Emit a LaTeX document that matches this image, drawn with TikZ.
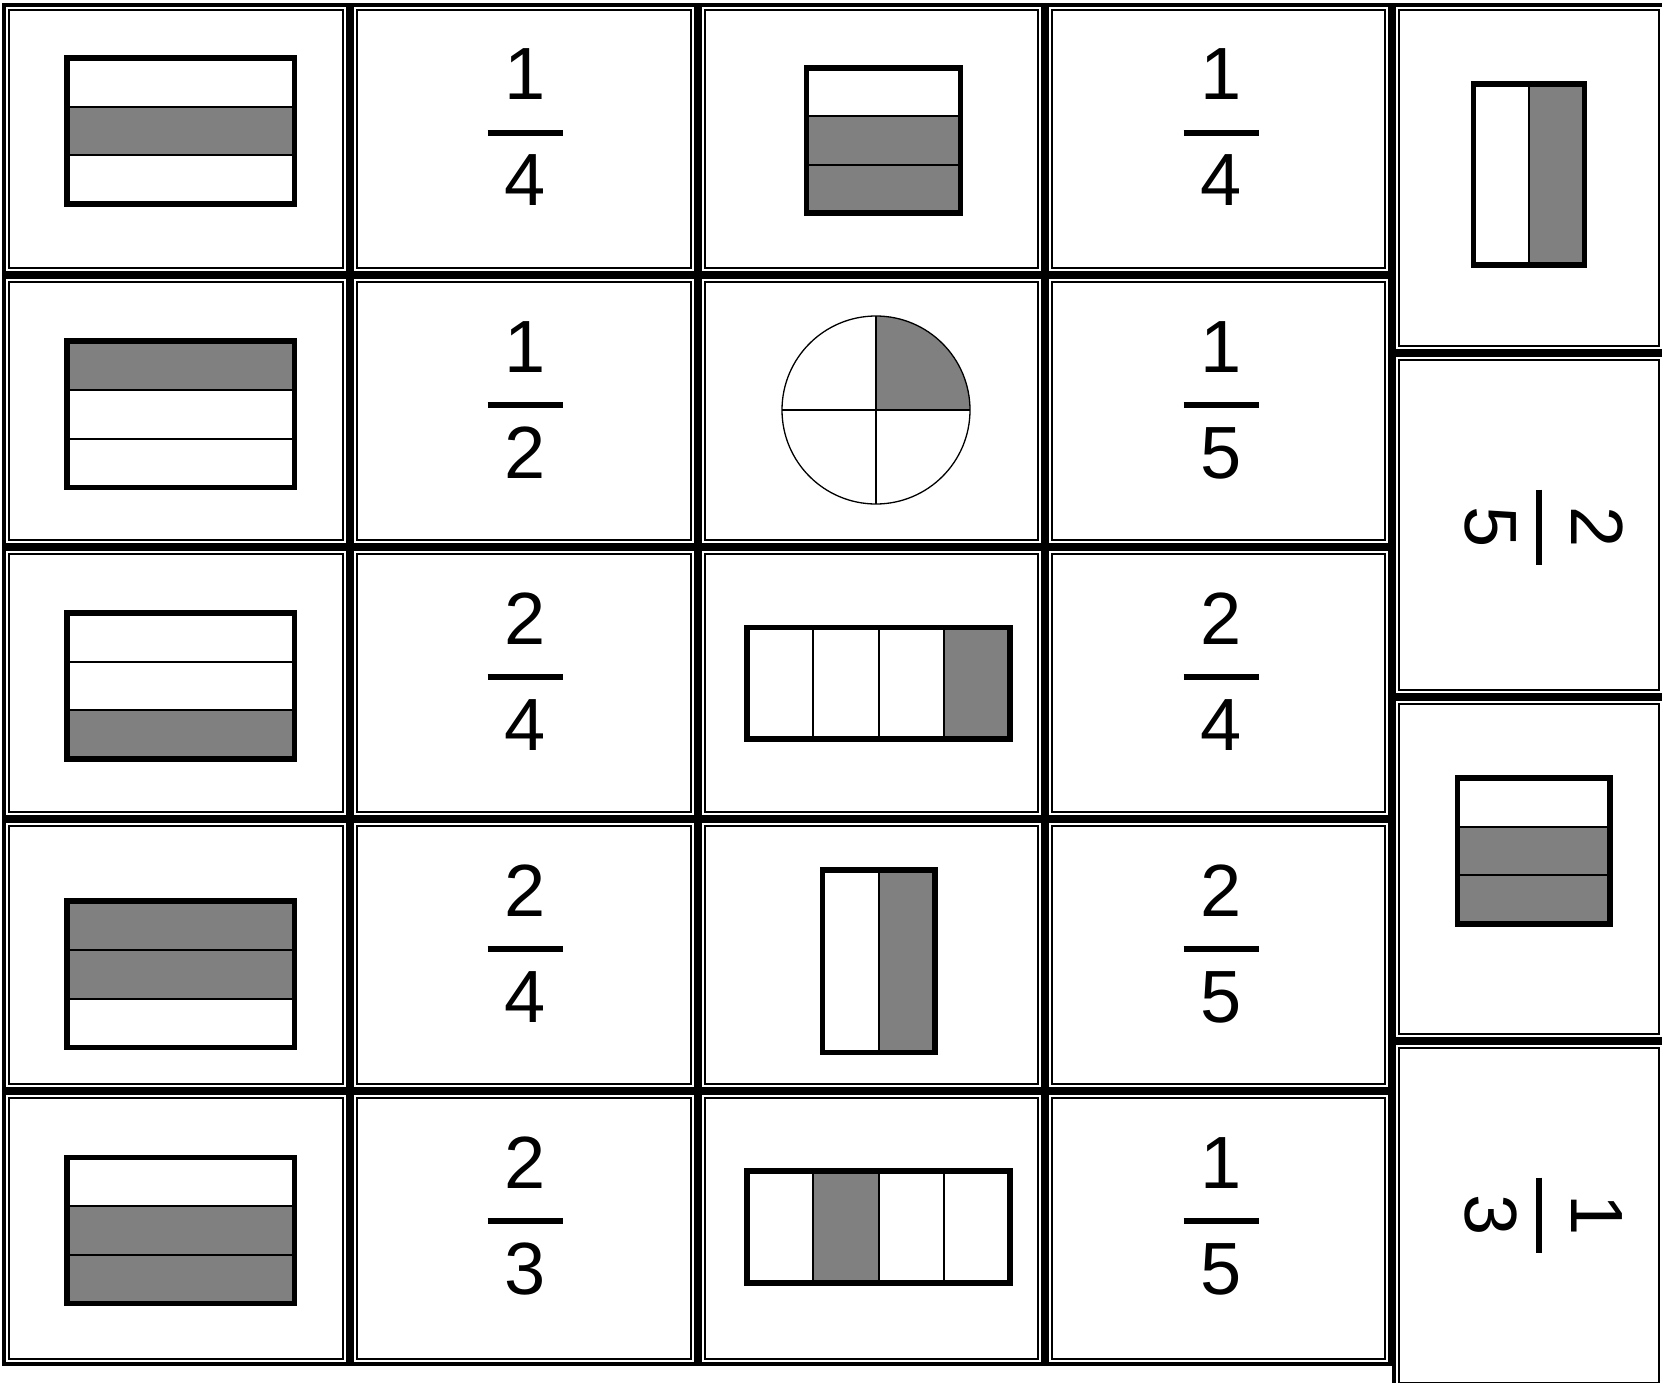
\documentclass[tikz,border=0pt]{standalone}
\usepackage{fontspec}
\setmainfont{Liberation Sans}
\tikzset{
  cardouter/.style={line width=4pt},
  cardinner/.style={line width=2pt},
  shapeframe/.style={line width=5.5pt},
  divider/.style={line width=2pt},
  shadefill/.style={fill=gray},
  fracbar/.style={line width=6pt},
  fracnum/.style={inner sep=0pt,font=\fontsize{74}{80}\selectfont},
  thinline/.style={line width=1.3pt}
}
\newcommand{\cardbox}[4]{%
  \draw[cardouter] ({#1+2},{#2+2}) rectangle ({#3-2},{#4-2});
  \draw[cardinner] ({#1+7},{#2+7}) rectangle ({#3-7},{#4-7});}
\newcommand{\stripsH}[6]{%
  \foreach \k in {#6}{\fill[shadefill] (#1,{#2+(\k-1)*(#4-#2)/#5}) rectangle (#3,{#2+\k*(#4-#2)/#5});}
  \foreach \k in {1,...,#5}{\ifnum\k<#5\relax\draw[divider] (#1,{#2+\k*(#4-#2)/#5}) -- (#3,{#2+\k*(#4-#2)/#5});\fi}
  \draw[shapeframe] (#1,#2) rectangle (#3,#4);}
\newcommand{\stripsV}[6]{%
  \foreach \k in {#6}{\fill[shadefill] ({#1+(\k-1)*(#3-#1)/#5},#2) rectangle ({#1+\k*(#3-#1)/#5},#4);}
  \foreach \k in {1,...,#5}{\ifnum\k<#5\relax\draw[divider] ({#1+\k*(#3-#1)/#5},#2) -- ({#1+\k*(#3-#1)/#5},#4);\fi}
  \draw[shapeframe] (#1,#2) rectangle (#3,#4);}
\newcommand{\frach}[5]{%
  \draw[fracbar] ({#2-37.5},#3) -- ({#2+37.5},#3);
  \node[fracnum,anchor=base] (#1n) at (#2,{#3-33}) {#4};
  \node[fracnum,anchor=base] (#1d) at (#2,{#3+73}) {#5};}
\newcommand{\fracv}[5]{%
  \draw[fracbar] (#2,{#3-37.5}) -- (#2,{#3+37.5});
  \node[fracnum,anchor=base,rotate=-90] (#1n) at ({#2+33},#3) {#4};
  \node[fracnum,anchor=base,rotate=-90] (#1d) at ({#2-73},#3) {#5};}
\begin{document}
\begin{tikzpicture}[x=1pt,y=-1pt]
\fill[white] (0,0) rectangle (1662,1383);
\useasboundingbox (0,0) rectangle (1662,1383);
% main grid cards
\foreach \xa/\xb in {2/350,350/698,698/1045,1045/1392}{
  \foreach \ya/\yb in {3/275,275/547,547/819,819/1091,1091/1366}{
    \cardbox{\xa}{\ya}{\xb}{\yb}}}
% right column cards
\foreach \ya/\yb in {3/352.5,352.5/697,697/1041,1041/1390}{
  \cardbox{1392}{\ya}{1665.5}{\yb}}
% column 1
\stripsH{67}{58}{294.5}{204}{3}{2}
\stripsH{67}{341}{294.5}{487.5}{3}{1}
\stripsH{67}{613}{294.5}{759}{3}{3}
\stripsH{67}{901}{294.5}{1047.3}{3}{1,2}
\stripsH{67}{1157.5}{294.5}{1303.5}{3}{2,3}
% column 2
\frach{ba}{525}{133}{1}{4}
\frach{bb}{525}{405}{1}{2}
\frach{bc}{525}{677}{2}{4}
\frach{bd}{525}{949}{2}{4}
\frach{be}{525}{1221}{2}{3}
% column 3
\stripsH{806.7}{67.8}{960.4}{213}{3}{2,3}
\begin{scope}
  \clip (876,410) circle[radius=94pt];
  \fill[shadefill] (876,300) rectangle (980,410);
\end{scope}
\draw[thinline] (876,316) -- (876,504);
\draw[thinline] (782,410) -- (970,410);
\draw[thinline] (876,410) circle[radius=94pt];
\stripsV{747}{627.5}{1010}{739}{4}{4}
\stripsV{822.6}{870}{935}{1052.6}{2}{2}
\stripsV{747}{1171}{1010}{1283}{4}{2}
% column 4
\frach{da}{1221}{133}{1}{4}
\frach{db}{1221}{405}{1}{5}
\frach{dc}{1221}{677}{2}{4}
\frach{dd}{1221}{949}{2}{5}
\frach{de}{1221}{1221}{1}{5}
% right column
\stripsV{1473.5}{84}{1584.5}{265}{2}{2}
\fracv{ea}{1538.5}{527}{2}{5}
\stripsH{1457.5}{778}{1610}{924}{3}{2,3}
\fracv{eb}{1538.5}{1215}{1}{3}
\end{tikzpicture}
\end{document}
